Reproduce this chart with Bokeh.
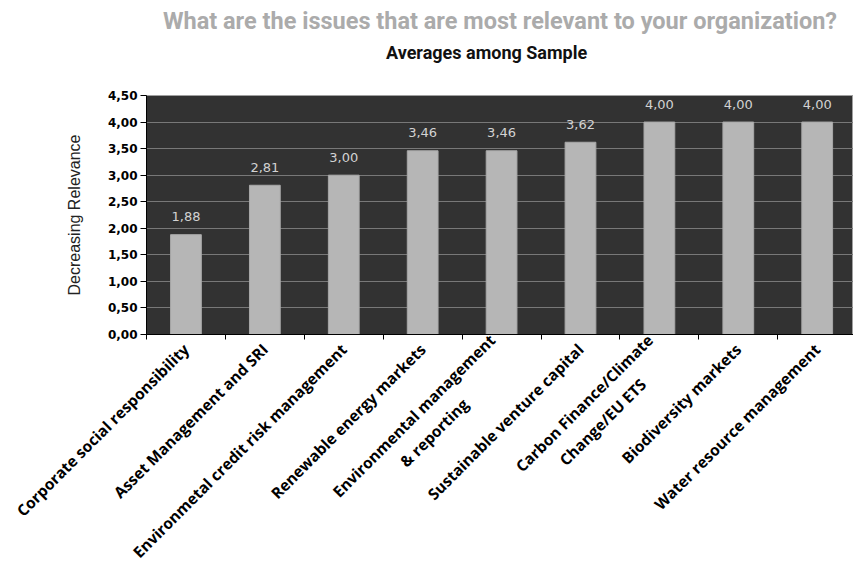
import math
from bokeh.plotting import figure
from bokeh.models import Range1d, LinearAxis, FixedTicker
from bokeh.core.properties import value
from bokeh.embed import file_html
from bokeh.resources import INLINE

# ---- data ----
NB = "\u00a0"
categories = [
    "Corporate social responsibility",
    "Asset Management and SRI",
    "Environmetal credit risk management",
    "Renewable energy markets",
    "Environmental management\n& reporting" + NB * 16,
    "Sustainable venture capital",
    "Carbon Finance/Climate\nChange/EU ETS" + NB * 9,
    "Biodiversity markets",
    "Water resource management",
]
values = [1.88, 2.81, 3.00, 3.46, 3.46, 3.62, 4.00, 4.00, 4.00]
value_labels = ["1,88", "2,81", "3,00", "3,46", "3,46", "3,62", "4,00", "4,00", "4,00"]
y_ticks = [0.0, 0.5, 1.0, 1.5, 2.0, 2.5, 3.0, 3.5, 4.0, 4.5]
y_tick_labels = ["0,00", "0,50", "1,00", "1,50", "2,00", "2,50", "3,00", "3,50", "4,00", "4,50"]
title_text = "What are the issues that are most relevant to your organization?"
subtitle_text = "Averages among Sample"
y_label = "Decreasing Relevance"

xs = [i + 0.5 for i in range(len(categories))]
bounds = [float(i) for i in range(len(categories) + 1)]

p = figure(
    width=853, height=579,
    x_range=Range1d(0, 8.96), y_range=Range1d(0, 4.5),
    output_backend="svg", toolbar_location=None,
    x_axis_location=None,
    min_border_left=146, min_border_right=0,
    min_border_top=95, min_border_bottom=245,
    background_fill_color="#323232", border_fill_color="white",
)
p.outline_line_color = "#a0a0a0"

# main title (outermost)
p.title.text = title_text
p.title.align = "center"
p.title.text_font = "Roboto"
p.title.text_font_style = "bold"
p.title.text_font_size = "23.5px"
p.title.text_color = "#ababab"
p.title.standoff = 8

# subtitle as the label of an empty axis above the frame
sub_axis = LinearAxis(ticker=FixedTicker(ticks=[]), axis_line_color=None,
                      major_tick_line_color=None, minor_tick_line_color=None,
                      major_tick_out=0, major_tick_in=0, major_label_standoff=0,
                      axis_label=subtitle_text + NB * 6, axis_label_standoff=33,
                      axis_label_text_font="Roboto", axis_label_text_font_style="bold",
                      axis_label_text_font_size="18px", axis_label_text_color="#111111")
p.add_layout(sub_axis, "above")

# bars
p.vbar(x=xs, top=values, width=0.39, fill_color="#b6b6b6", line_color="#a8a8a8")
p.text(x=xs, y=values, text=value_labels, text_align="center", text_baseline="alphabetic",
       y_offset=-18, text_font=value("DejaVu Sans"), text_font_size="13px",
       text_color="#d2d2d2")

# y axis
yax = p.yaxis[0]
yax.ticker = FixedTicker(ticks=y_ticks)
yax.major_label_overrides = dict(zip(y_ticks, y_tick_labels))
yax.major_label_text_font = "DejaVu Sans"
yax.major_label_text_font_style = "bold"
yax.major_label_text_font_size = "12px"
yax.major_label_text_color = "black"
yax.major_tick_out = 6
yax.major_tick_in = 0
yax.minor_tick_line_color = None
yax.axis_line_color = "black"
yax.major_tick_line_color = "black"
yax.major_label_standoff = 3
yax.axis_label = y_label
yax.axis_label_text_font = "Liberation Sans"
yax.axis_label_text_font_style = "normal"
yax.axis_label_text_font_size = "16px"
yax.axis_label_text_color = "#222222"
yax.axis_label_standoff = 22

p.ygrid.ticker = FixedTicker(ticks=y_ticks)
p.ygrid.grid_line_color = "#787878"
p.xgrid.visible = False

# x axis: category labels at centers, boundary marks as minor ticks
label_axis = LinearAxis(ticker=FixedTicker(ticks=xs, minor_ticks=bounds),
                        major_label_overrides=dict(zip(xs, categories)),
                        major_tick_line_color=None, major_tick_out=0, major_tick_in=0,
                        minor_tick_line_color="black", minor_tick_out=5, minor_tick_in=0,
                        axis_line_color="black",
                        major_label_orientation=math.pi / 4, major_label_standoff=7,
                        major_label_text_font="Open Sans", major_label_text_font_style="bold",
                        major_label_text_font_size="15.5px", major_label_text_color="black")
p.add_layout(label_axis, "below")

open("out.html", "w").write(file_html(p, INLINE))
